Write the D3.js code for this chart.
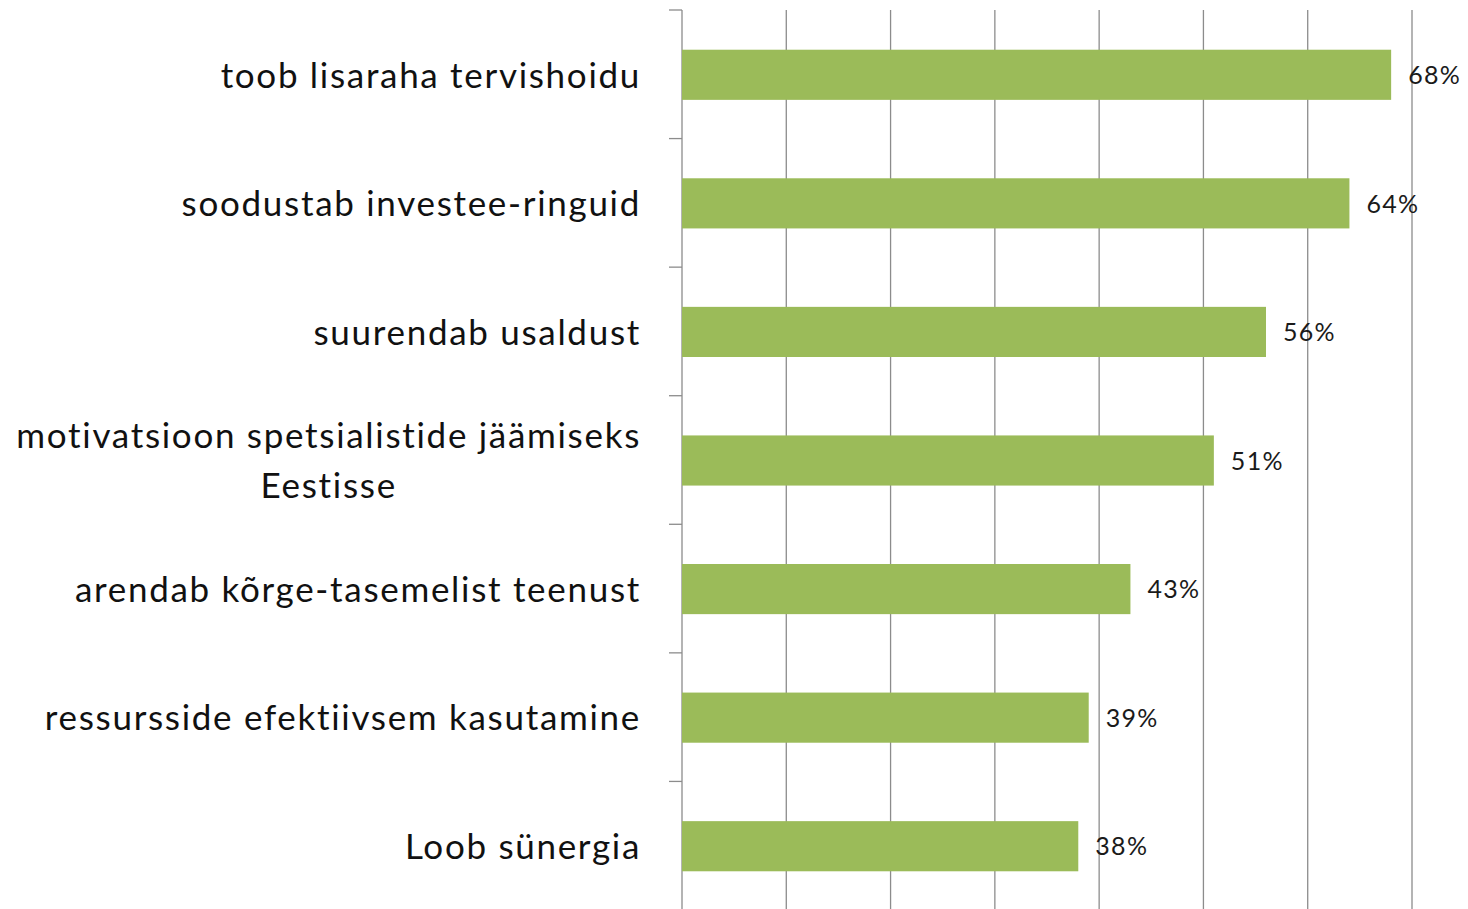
<!DOCTYPE html>
<html>
<head>
<meta charset="utf-8">
<script src="https://cdn.jsdelivr.net/npm/d3@7"></script>
<style>
  body { margin: 0; background: #fff; }
  text { font-family: Lato, "Open Sans", sans-serif; }
</style>
</head>
<body>
<div id="chart"></div>
<script>
const width = 1468,
    height = 909;

// values, top to bottom
const categories = [
  ["toob lisaraha tervishoidu"],
  ["soodustab investee-ringuid"],
  ["suurendab usaldust"],
  ["motivatsioon spetsialistide jäämiseks", "Eestisse"],
  ["arendab kõrge-tasemelist teenust"],
  ["ressursside efektiivsem kasutamine"],
  ["Loob sünergia"]
];
const values = [68, 64, 56, 51, 43, 39, 38];
const ticks = [0, 10, 20, 30, 40, 50, 60, 70];

const plotLeft = 682, plotRight = 1412, plotTop = 10, plotBottom = 910;

const svg = d3.select("#chart")
  .append("svg")
  .attr("width", width)
  .attr("height", height);

const x = d3.scaleLinear()
  .domain([0, 70])
  .range([plotLeft, plotRight]);

const y = d3.scaleBand()
  .domain(d3.range(categories.length))
  .range([plotTop, plotBottom])
  .paddingInner(0.61)
  .paddingOuter(0.305);

// vertical gridlines
svg.append("g")
  .selectAll("line")
  .data(ticks.slice(1))
  .join("line")
    .attr("x1", d => x(d))
    .attr("x2", d => x(d))
    .attr("y1", plotTop)
    .attr("y2", plotBottom)
    .attr("stroke", "#8c8c8c")
    .attr("stroke-width", 1.3);

// category axis, tick marks on band edges
const step = (plotBottom - plotTop) / categories.length;
const ax = svg.append("g");
ax.append("line")
  .attr("x1", plotLeft).attr("x2", plotLeft)
  .attr("y1", plotTop).attr("y2", plotBottom)
  .attr("stroke", "#8c8c8c").attr("stroke-width", 1.3);
ax.selectAll("line.tk")
  .data(d3.range(categories.length + 1))
  .join("line")
    .attr("class", "tk")
    .attr("x1", plotLeft - 13).attr("x2", plotLeft)
    .attr("y1", i => plotTop + i * step)
    .attr("y2", i => plotTop + i * step)
    .attr("stroke", "#8c8c8c").attr("stroke-width", 1.3);

// bars
svg.append("g")
  .selectAll("rect")
  .data(values)
  .join("rect")
    .attr("x", x(0))
    .attr("y", (d, i) => y(i) + 0.5)
    .attr("width", d => x(d) - x(0))
    .attr("height", y.bandwidth())
    .attr("fill", "#9bbb59");

// value labels
svg.append("g")
  .selectAll("text")
  .data(values)
  .join("text")
    .attr("x", d => x(d) + 17)
    .attr("y", (d, i) => y(i) + y.bandwidth() / 2 + 1)
    .attr("dy", "0.35em")
    .attr("font-size", 25)
    .attr("letter-spacing", 1.3)
    .attr("fill", "#1a1a1a")
    .text(d => d + "%");

// category labels
const lab = svg.append("g")
  .selectAll("text")
  .data(categories)
  .join("text")
    .attr("font-size", 35)
    .attr("letter-spacing", 1.7)
    .attr("fill", "#111");

lab.each(function(lines, i) {
  const t = d3.select(this);
  const cy = y(i) + y.bandwidth() / 2 + 1;
  const lh = 50;
  lines.forEach((s, k) => {
    t.append("tspan")
      .attr("y", cy + (k - (lines.length - 1) / 2) * lh)
      .attr("dy", "0.35em")
      .text(s);
  });
  if (lines.length == 1) {
    t.attr("text-anchor", "end");
    t.selectAll("tspan").attr("x", 641);
  } else {
    const w = d3.max(t.selectAll("tspan").nodes(), n => n.getComputedTextLength());
    t.attr("text-anchor", "middle");
    t.selectAll("tspan").attr("x", 641 - w / 2);
  }
});
</script>
</body>
</html>
